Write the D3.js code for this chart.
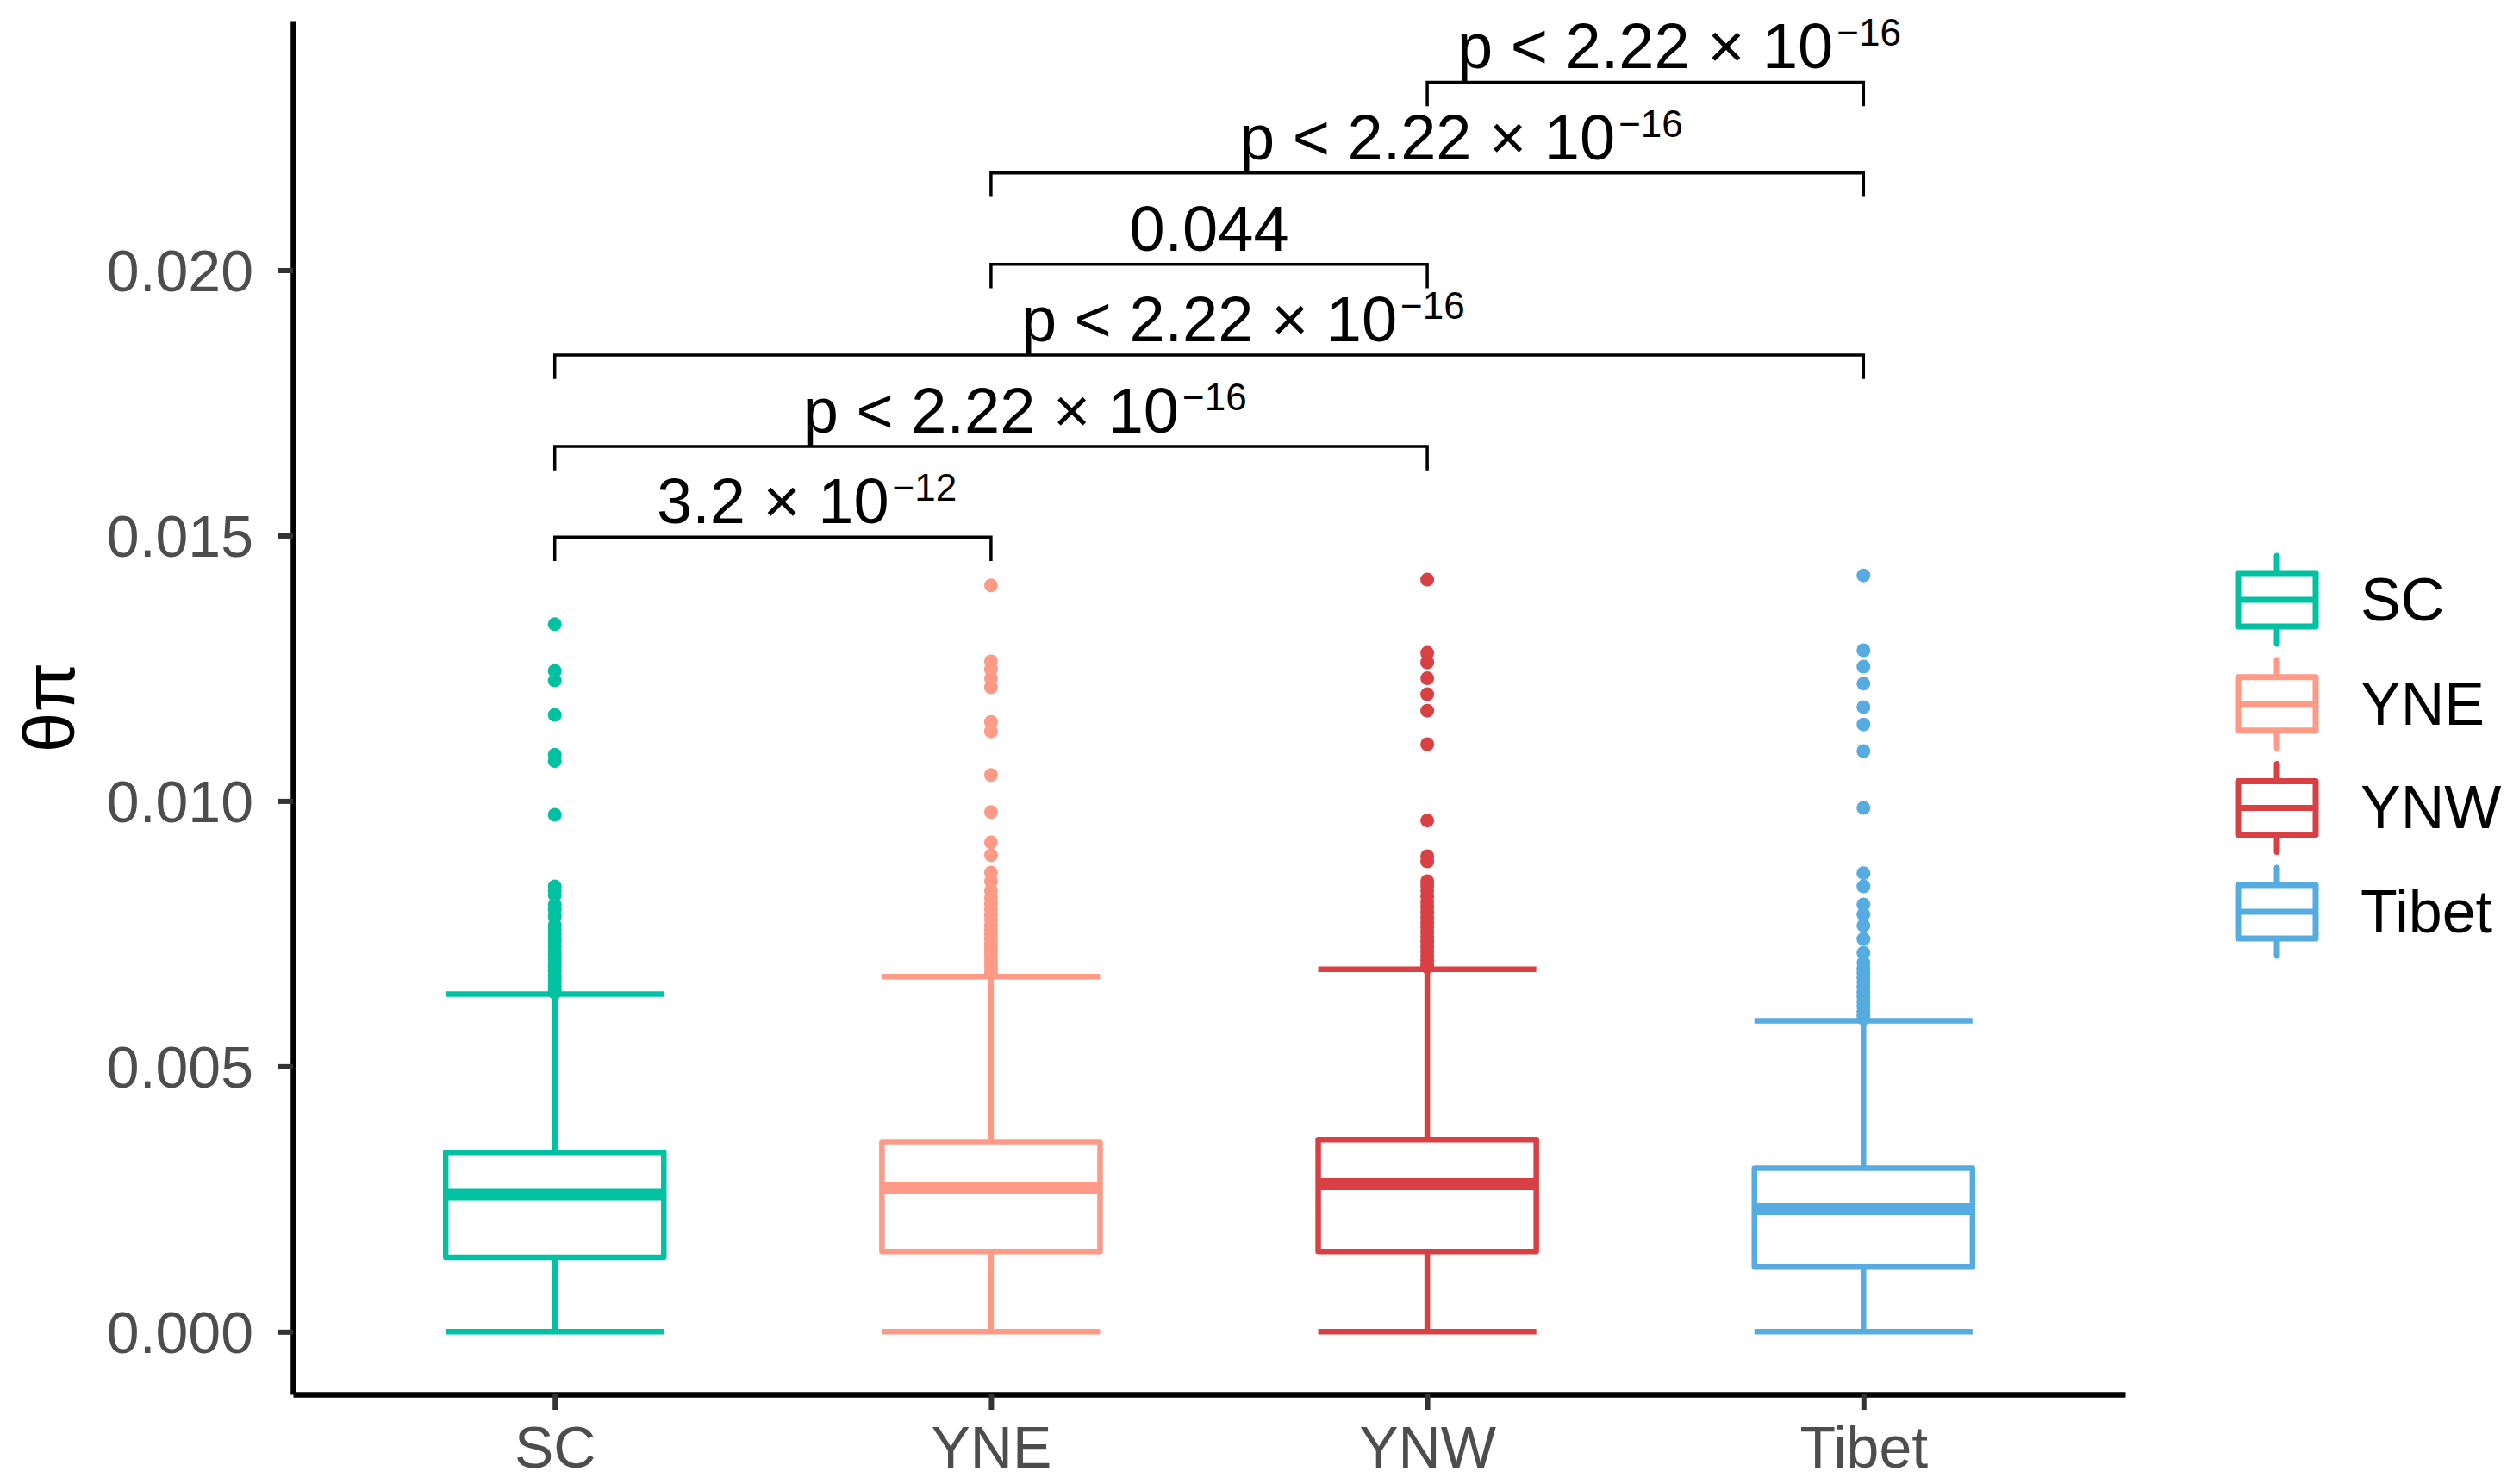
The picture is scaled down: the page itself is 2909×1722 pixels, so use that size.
<!DOCTYPE html>
<html lang='en'>
<head>
  <meta charset='utf-8'>
  <title>Theta pi boxplot</title>
  <script src='https://cdn.jsdelivr.net/npm/d3@7'></script>
  <style>
    body { margin: 0; background: #fff; }
    text { font-family: "Liberation Sans", Arial, Helvetica, sans-serif; }
  </style>
</head>
<body>
  <script>
    // groups and colours
    let groups = ["SC", "YNE", "YNW", "Tibet"];
    let colors = ["#00C2A2", "#FF9A86", "#D94043", "#56ABE0"];

    // box statistics: [lower whisker, Q1, median, Q3, upper whisker]
    let boxStats = [
      [0, 0.00140, 0.00258, 0.00338, 0.00636],
      [0, 0.00151, 0.00271, 0.00357, 0.00669],
      [0, 0.00151, 0.00278, 0.00362, 0.00683],
      [0, 0.00122, 0.00231, 0.00308, 0.00586]
    ];

    // outliers (dense part estimated)
    let outliersSC = [0.01333, 0.01245, 0.01227, 0.01162, 0.01087, 0.01075, 0.00974,
      0.00839, 0.00831, 0.00823, 0.00805, 0.00795, 0.00782, 0.00766, 0.00757, 0.00750,
      0.00742, 0.00735, 0.00726, 0.00718, 0.00710, 0.00702, 0.00695, 0.00688, 0.00680,
      0.00672, 0.00665, 0.00658, 0.00651, 0.00644, 0.00639];
    let outliersYNE = [0.01406, 0.01263, 0.01248, 0.01231, 0.01214, 0.01149, 0.01131,
      0.01049, 0.00979, 0.00922, 0.00898, 0.00865, 0.00849, 0.00831, 0.00818, 0.00806,
      0.00796, 0.00785, 0.00776, 0.00766, 0.00758, 0.00749, 0.00740, 0.00731, 0.00722,
      0.00714, 0.00706, 0.00698, 0.00690, 0.00682, 0.00675];
    let outliersYNW = [0.01417, 0.01279, 0.01261, 0.01231, 0.01201, 0.01170, 0.01107,
      0.00963, 0.00896, 0.00886, 0.00849, 0.00840, 0.00830, 0.00820, 0.00810, 0.00800,
      0.00790, 0.00780, 0.00771, 0.00762, 0.00753, 0.00744, 0.00735, 0.00726, 0.00717,
      0.00708, 0.00700, 0.00692, 0.00687];
    let outliersTibet = [0.01425, 0.01284, 0.01253, 0.01221, 0.01177, 0.01144, 0.01094,
      0.00987, 0.00864, 0.00839, 0.00805, 0.00786, 0.00765, 0.00740, 0.00714, 0.00695,
      0.00685, 0.00676, 0.00667, 0.00658, 0.00649, 0.00640, 0.00631, 0.00622, 0.00613,
      0.00604, 0.00596, 0.00590];
    let outliers = [outliersSC, outliersYNE, outliersYNW, outliersTibet];

    // pairwise comparisons: [group1, group2, bracket y, label, superscript]
    let comparisons = [
      ["SC", "YNE", 0.01497, "3.2 × 10", "−12"],
      ["SC", "YNW", 0.01668, "p < 2.22 × 10", "−16"],
      ["SC", "Tibet", 0.01840, "p < 2.22 × 10", "−16"],
      ["YNE", "YNW", 0.02011, "0.044", ""],
      ["YNE", "Tibet", 0.02183, "p < 2.22 × 10", "−16"],
      ["YNW", "Tibet", 0.02354, "p < 2.22 × 10", "−16"]
    ];
    let tipLength = 0.00045;

    let yTicks = [0, 0.005, 0.010, 0.015, 0.020];

    let width = 2909, height = 1722;
    let panel = { left: 340, right: 2466, top: 24, bottom: 1618 };

    let svg = d3.select("body").append("svg")
      .attr("width", width)
      .attr("height", height);

    let xScale = d3.scalePoint()
      .domain(groups)
      .range([panel.left, panel.right])
      .padding(0.6);
    let yScale = d3.scaleLinear()
      .domain([-0.00118, 0.02470])
      .range([panel.bottom, panel.top]);
    let colorScale = d3.scaleOrdinal().domain(groups).range(colors);

    let boxWidth = xScale.step() * 0.5;
    let lineW = 6.5;

    let data = groups.map((g, i) => ({ name: g, stats: boxStats[i], out: outliers[i] }));

    // boxes
    let boxes = svg.selectAll(".box").data(data).join("g")
      .classed("box", true)
      .attr("stroke", d => colorScale(d.name))
      .attr("fill", "none");

    boxes.each(function (d) {
      let g = d3.select(this);
      let cx = xScale(d.name);
      let s = d.stats;
      // whisker caps
      [s[0], s[4]].forEach(v => {
        g.append("line")
          .attr("x1", cx - boxWidth / 2).attr("x2", cx + boxWidth / 2)
          .attr("y1", yScale(v)).attr("y2", yScale(v))
          .attr("stroke-width", lineW);
      });
      // whiskers
      g.append("line")
        .attr("x1", cx).attr("x2", cx)
        .attr("y1", yScale(s[0])).attr("y2", yScale(s[1]))
        .attr("stroke-width", lineW);
      g.append("line")
        .attr("x1", cx).attr("x2", cx)
        .attr("y1", yScale(s[3])).attr("y2", yScale(s[4]))
        .attr("stroke-width", lineW);
      // outliers
      g.selectAll("circle").data(d.out).join("circle")
        .attr("cx", cx)
        .attr("cy", v => yScale(v))
        .attr("r", 8)
        .attr("stroke", "none")
        .attr("fill", colorScale(d.name));
      // box
      g.append("rect")
        .attr("x", cx - boxWidth / 2)
        .attr("y", yScale(s[3]))
        .attr("width", boxWidth)
        .attr("height", yScale(s[1]) - yScale(s[3]))
        .attr("fill", "white")
        .attr("stroke-width", lineW)
        .attr("stroke-linejoin", "round");
      // median
      g.append("line")
        .attr("x1", cx - boxWidth / 2).attr("x2", cx + boxWidth / 2)
        .attr("y1", yScale(s[2])).attr("y2", yScale(s[2]))
        .attr("stroke-width", 14);
    });

    // comparison brackets
    let brackets = svg.selectAll(".bracket").data(comparisons).join("g")
      .classed("bracket", true);
    brackets.append("path")
      .attr("d", d => {
        let x1 = xScale(d[0]), x2 = xScale(d[1]);
        let y = yScale(d[2]), yt = yScale(d[2] - tipLength);
        return `M${x1},${yt}V${y}H${x2}V${yt}`;
      })
      .attr("fill", "none")
      .attr("stroke", "black")
      .attr("stroke-width", 3.5);
    brackets.each(function (d) {
      let g = d3.select(this);
      let mid = (xScale(d[0]) + xScale(d[1])) / 2;
      let y = yScale(d[2]) - 16;
      let t = g.append("text")
        .attr("y", y)
        .attr("font-size", 74)
        .attr("fill", "black");
      let base = t.append("tspan").text(d[3]);
      if (d[4]) {
        t.append("tspan").text(d[4])
          .attr("font-size", 44)
          .attr("dx", 4)
          .attr("dy", -26);
      }
      // centre the base text on the bracket, superscript hangs to the right
      let baseW = base.node().getComputedTextLength();
      t.attr("x", mid - baseW / 2);
    });

    // y axis
    let yAxis = d3.axisLeft(yScale)
      .tickValues(yTicks)
      .tickFormat(d3.format(".3f"))
      .tickSize(18)
      .tickSizeOuter(0)
      .tickPadding(28);
    let yAxisG = svg.append("g")
      .attr("transform", `translate(${panel.left}, 0)`)
      .call(yAxis);

    // x axis
    let xAxis = d3.axisBottom(xScale)
      .tickSize(18)
      .tickSizeOuter(0)
      .tickPadding(19);
    let xAxisG = svg.append("g")
      .attr("transform", `translate(0, ${panel.bottom})`)
      .call(xAxis);

    [yAxisG, xAxisG].forEach(a => {
      a.select(".domain").attr("stroke", "black").attr("stroke-width", 6.5);
      a.selectAll(".tick line").attr("stroke", "#333333").attr("stroke-width", 6);
      a.selectAll(".tick text")
        .attr("font-size", 68)
        .attr("fill", "#4D4D4D")
        .style("font-family", "'Liberation Sans', Arial, sans-serif");
    });
    yAxisG.selectAll(".tick text").attr("dy", "0.35em");
    yAxisG.attr("font-size", null);
    xAxisG.attr("font-size", null);

    // y label
    svg.append("text")
      .attr("transform", `translate(86, ${(panel.top + panel.bottom) / 2}) rotate(-90)`)
      .attr("text-anchor", "middle")
      .attr("font-size", 84)
      .attr("fill", "black")
      .text("θπ");

    // legend
    let legend = svg.append("g")
      .attr("transform", "translate(2594, 696)");
    let items = legend.selectAll(".item").data(groups).join("g")
      .classed("item", true)
      .attr("transform", (d, i) => `translate(0, ${i * 120.7})`);
    items.append("line")
      .attr("x1", 48).attr("x2", 48)
      .attr("y1", -51).attr("y2", 51)
      .attr("stroke", d => colorScale(d))
      .attr("stroke-width", 7)
      .attr("stroke-linecap", "round");
    items.append("rect")
      .attr("x", 3).attr("y", -31)
      .attr("width", 90).attr("height", 62)
      .attr("fill", "white")
      .attr("stroke", d => colorScale(d))
      .attr("stroke-width", 7)
      .attr("stroke-linejoin", "round");
    items.append("line")
      .attr("x1", 3).attr("x2", 93)
      .attr("y1", 0).attr("y2", 0)
      .attr("stroke", d => colorScale(d))
      .attr("stroke-width", 7);
    items.append("text")
      .attr("x", 145)
      .attr("y", 24)
      .attr("font-size", 70)
      .attr("fill", "black")
      .text(d => d);
  </script>
</body>
</html>
